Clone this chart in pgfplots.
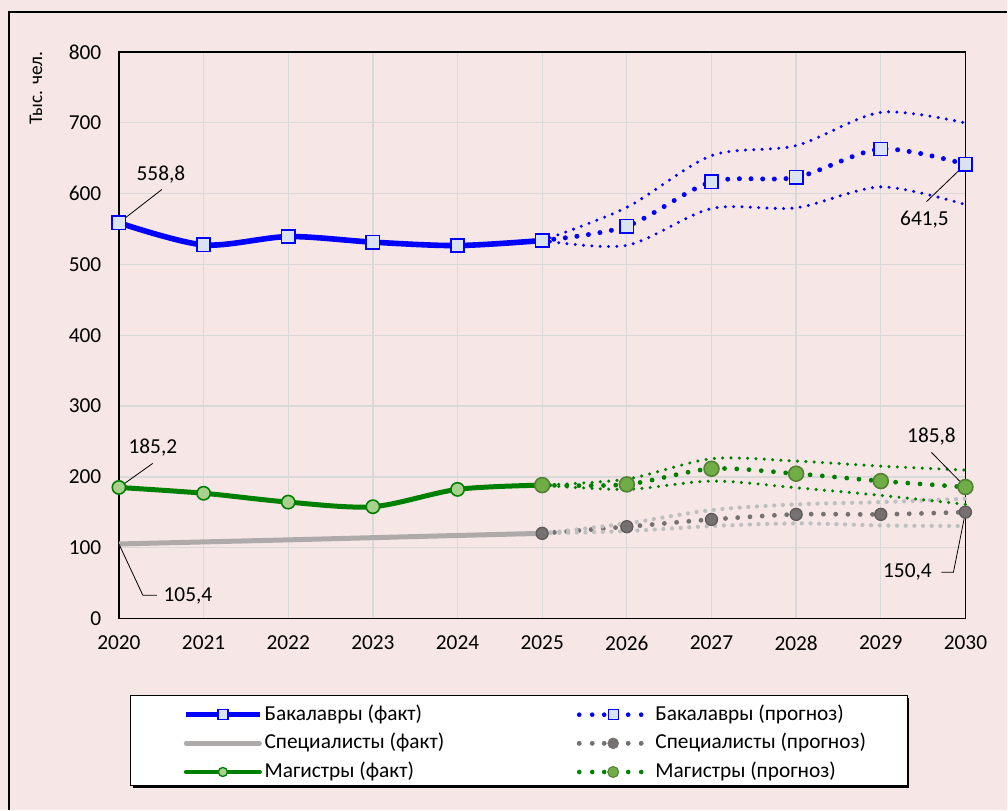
\documentclass[border=0pt]{standalone}
\usepackage{fontspec}
\setmainfont{Carlito}
\usepackage{pgfplots}
\pgfplotsset{compat=1.18}
\definecolor{bgpink}{RGB}{246,230,230}
\definecolor{gridgray}{RGB}{217,217,217}
\definecolor{sqfill}{RGB}{218,227,243}
\definecolor{mgreen}{RGB}{0,128,0}
\definecolor{mfill}{RGB}{169,209,142}
\definecolor{fgreen}{RGB}{112,173,71}
\definecolor{fgreenb}{RGB}{84,130,53}
\definecolor{sgray}{RGB}{174,170,170}
\definecolor{dgray}{RGB}{118,113,113}
\definecolor{dgrayb}{RGB}{95,90,90}
\definecolor{lgray}{RGB}{191,191,191}
\newcommand\fs{\fontsize{16}{19.2}\selectfont}
\begin{document}
\begin{tikzpicture}
\fill[bgpink] (0,0) rectangle (756pt,607.5pt);
\draw[black, line width=0.9pt] (6.75pt,0) -- (6.75pt,598.5pt) -- (756pt,598.5pt);
\node[rotate=90, font=\fontsize{14.5}{17}\selectfont] at (27pt,541.5pt) {Тыс. чел.};
% legend frame with shadow
\fill[black] (99.75pt,16.5pt) rectangle (682.5pt,84pt);
\filldraw[fill=white, draw=black, line width=0.75pt] (98.25pt,18pt) rectangle (681pt,85.5pt);
\begin{axis}[
  at={(89.25pt,143.25pt)}, anchor=south west, scale only axis,
  width=635.25pt, height=425.25pt,
  xmin=2020, xmax=2030, ymin=0, ymax=800,
  xtick={2020,2021,...,2030}, ytick={0,100,...,800},
  /pgf/number format/.cd, 1000 sep={}, assume math mode=true, /pgfplots/.cd,
  grid=major, major grid style={line width=1pt, draw=gridgray},
  major tick length=0pt,
  axis line style={black, line width=1pt},
  axis background/.style={fill=bgpink},
  tick label style={font=\fs},
  yticklabel style={xshift=-9.7pt},
  xticklabel style={yshift=-9.4pt},
  clip=false,
  legend cell align=left,
  legend style={at={(axis description cs:0.01417,-0.142)}, anchor=north west,
    legend columns=2, fill=none, draw=none,
    inner xsep=39.5pt, inner ysep=1.5pt, row sep=1.5pt,
    nodes={inner sep=2pt, text height=12pt, text depth=4pt, anchor=west, font=\fs},
    /tikz/every even column/.append style={column sep=97.5pt}},
]
% facts
\addplot[forget plot, sgray, line width=3.75pt, smooth] coordinates {
 (2020,105.4) (2021,108.3) (2022,111.2) (2023,114.3) (2024,117.4) (2025,120.4)};
\addplot[forget plot, mgreen, line width=3.75pt, smooth, mark=*, mark size=5pt,
  mark options={fill=mfill, draw=mgreen, line width=1.2pt}] coordinates {
 (2020,185.2) (2021,177) (2022,164.5) (2023,158) (2024,182.5) (2025,188.5)};
\addplot[forget plot, blue, line width=4.2pt, smooth, mark=square*, mark size=5pt,
  mark options={fill=sqfill, draw=blue, line width=1.2pt}] coordinates {
 (2020,558.8) (2021,527.6) (2022,539.4) (2023,531.5) (2024,526.7) (2025,533.8)};
% forecasts
\addplot[forget plot, dgray, line width=3.6pt, smooth, line cap=round, dash pattern=on 0pt off 9.2pt,
  mark=*, mark size=4.5pt, mark options={solid, fill=dgray, draw=dgrayb, line width=1pt}] coordinates {
 (2025,120.4) (2026,129.8) (2027,140) (2028,147.2) (2029,147.2) (2030,150.4)};
\addplot[forget plot, mgreen, line width=3.6pt, smooth, line cap=round, dash pattern=on 0pt off 9.2pt,
  mark=*, mark size=5.6pt, mark options={solid, fill=fgreen, draw=fgreenb, line width=1.2pt}] coordinates {
 (2025,188.5) (2026,189.5) (2027,211.6) (2028,204.6) (2029,194.2) (2030,185.8)};
\addplot[forget plot, blue, line width=3.75pt, smooth, line cap=round, dash pattern=on 0pt off 8.75pt,
  mark=square*, mark size=5pt, mark options={solid, fill=sqfill, draw=blue, line width=1.2pt}] coordinates {
 (2025,533.8) (2026,554) (2027,616.6) (2028,623) (2029,663) (2030,641.5)};
% bands
\addplot[forget plot, lgray, line width=3.2pt, smooth, line cap=round, dash pattern=on 0pt off 6.5pt] coordinates {
 (2025,120.4) (2026,134.5) (2027,153.3) (2028,161.3) (2029,164.5) (2030,169.3)};
\addplot[forget plot, lgray, line width=3.2pt, smooth, line cap=round, dash pattern=on 0pt off 6.5pt] coordinates {
 (2025,120.4) (2026,123.6) (2027,130.7) (2028,134.5) (2029,131.6) (2030,130.7)};
\addplot[forget plot, mgreen, line width=2.6pt, smooth, line cap=round, dash pattern=on 0pt off 6.25pt] coordinates {
 (2025,188.5) (2026,197) (2027,225.7) (2028,222.4) (2029,215.3) (2030,209.7)};
\addplot[forget plot, mgreen, line width=2.6pt, smooth, line cap=round, dash pattern=on 0pt off 6.25pt] coordinates {
 (2025,188.5) (2026,182.4) (2027,194.2) (2028,184.8) (2029,174) (2030,161.3)};
\addplot[forget plot, blue, line width=2.5pt, smooth, line cap=round, dash pattern=on 0pt off 6.25pt] coordinates {
 (2025,533.8) (2026,580.7) (2027,653.7) (2028,667.8) (2029,714.8) (2030,699.8)};
\addplot[forget plot, blue, line width=2.5pt, smooth, line cap=round, dash pattern=on 0pt off 6.25pt] coordinates {
 (2025,533.8) (2026,527) (2027,579) (2028,580) (2029,609.5) (2030,584.5)};
% annotations
\draw[black, line width=0.6pt] (axis cs:2020,558.8) -- (axis cs:2020.508,605.9);
\node[font=\fs, inner sep=0pt] at (axis cs:2020.496,627.2) {558,8};
\draw[black, line width=0.6pt] (axis cs:2030,641.5) -- (axis cs:2029.54,588.7);
\node[font=\fs, inner sep=0pt] at (axis cs:2029.516,563.4) {641,5};
\draw[black, line width=0.6pt] (axis cs:2020,185.2) -- (axis cs:2020.40,219.2);
\node[font=\fs, inner sep=0pt] at (axis cs:2020.401,241.7) {185,2};
\draw[black, line width=0.6pt] (axis cs:2020,105.4) -- (axis cs:2020.283,32.9) -- (axis cs:2020.449,32.9);
\node[font=\fs, inner sep=0pt] at (axis cs:2020.815,31.5) {105,4};
\draw[black, line width=0.6pt] (axis cs:2029.599,234.6) -- (axis cs:2030,185.8);
\node[font=\fs, inner sep=0pt] at (axis cs:2029.599,257.2) {185,8};
\draw[black, line width=0.6pt] (axis cs:2029.717,65.4) -- (axis cs:2029.858,65.4) -- (axis cs:2030,150.4);
\node[font=\fs, inner sep=0pt] at (axis cs:2029.315,65.4) {150,4};
% legend
\addlegendimage{legend image code/.code={
  \draw[blue, line width=3.6pt] (0pt,0pt) -- (55pt,0pt);
  \draw[blue, fill=sqfill, line width=1pt] (23.75pt,-3.75pt) rectangle (31.25pt,3.75pt);}}
\addlegendentry{Бакалавры (факт)}
\addlegendimage{legend image code/.code={
  \foreach \d in {0,9.75,18.75,36.75,46.5} \fill[blue] (\d pt,0pt) circle (1.5pt);
  \draw[blue, fill=sqfill, line width=1pt] (21.75pt,-3.75pt) rectangle (29.25pt,3.75pt);
  \path (55pt,0pt);}}
\addlegendentry{Бакалавры (прогноз)}
\addlegendimage{legend image code/.code={
  \draw[sgray, line width=3.6pt, line cap=round] (0pt,0pt) -- (55pt,0pt);}}
\addlegendentry{Специалисты (факт)}
\addlegendimage{legend image code/.code={
  \foreach \d in {0,9.75,18.75,36.75,46.5} \fill[dgray] (\d pt,0pt) circle (1.6pt);
  \fill[dgray] (25.5pt,0pt) circle (4.1pt);
  \path (55pt,0pt);}}
\addlegendentry{Специалисты (прогноз)}
\addlegendimage{legend image code/.code={
  \draw[mgreen, line width=3.6pt, line cap=round] (0pt,0pt) -- (55pt,0pt);
  \draw[mgreen, fill=mfill, line width=1pt] (27.5pt,0pt) circle (3.4pt);}}
\addlegendentry{Магистры (факт)}
\addlegendimage{legend image code/.code={
  \foreach \d in {0,9.75,18.75,36.75,46.5} \fill[mgreen] (\d pt,0pt) circle (1.5pt);
  \draw[fgreenb, fill=fgreen, line width=0.8pt] (25.5pt,0pt) circle (4.1pt);
  \path (55pt,0pt);}}
\addlegendentry{Магистры (прогноз)}
\end{axis}
\end{tikzpicture}
\end{document}
